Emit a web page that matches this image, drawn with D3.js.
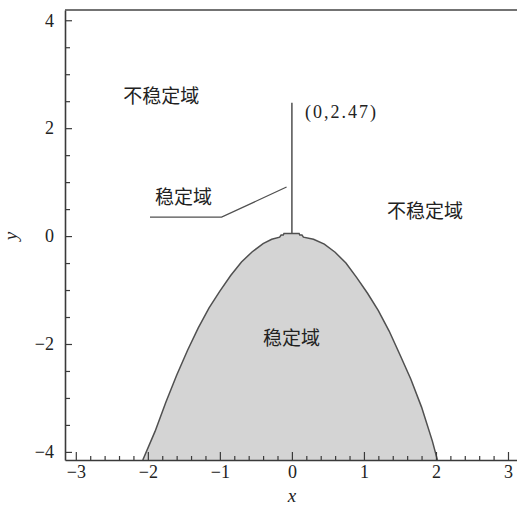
<!DOCTYPE html>
<html><head><meta charset="utf-8">
<script src="https://cdn.jsdelivr.net/npm/d3@7"></script>
<style>body{margin:0;background:#fff}</style>
</head><body>
<script>
// ---- data ----
const xTickValues = [-3, -2, -1, 0, 1, 2, 3];
const yTickValues = [-4, -2, 0, 2, 4];
const boundaryX = [-2.07, -1.9, -1.75, -1.6, -1.45, -1.3, -1.15, -1.0, -0.85, -0.7, -0.55, -0.4, -0.28,
  -0.17, -0.15, -0.12, -0.11, 0.1, 0.11, 0.14, 0.16,
  0.3, 0.45, 0.6, 0.75, 0.9, 1.05, 1.2, 1.35, 1.5, 1.65, 1.8, 1.95, 2.02];
const boundaryY = [-4.15, -3.62, -3.08, -2.58, -2.12, -1.7, -1.33, -1.02, -0.73, -0.48, -0.29, -0.14, -0.06,
  -0.02, 0.02, 0.02, 0.05, 0.05, 0.02, 0.02, -0.02,
  -0.06, -0.15, -0.3, -0.5, -0.77, -1.06, -1.38, -1.76, -2.2, -2.65, -3.17, -3.8, -4.15];
const peakPoint = [0, 2.47];
const peakLabel = "(0,2.47)";
const regionLabels = ["不稳定域", "稳定域", "不稳定域", "稳定域"];

// ---- layout ----
const W = 517, H = 508;
const L = 65, R = 517, T = 10, B = 460;
const x = d3.scaleLinear().domain([-3.15, 3.125]).range([L, R]);
const y = d3.scaleLinear().domain([-4.15, 4.19]).range([B, T]);
const ink = "#3a3a3a";
const serif = "Liberation Serif, Times New Roman, Times, serif";
const cjk = "Noto Sans CJK SC, Noto Sans CJK JP, sans-serif";

const svg = d3.select("body").append("svg").attr("width", W).attr("height", H);
svg.append("defs").append("clipPath").attr("id", "clip")
  .append("rect").attr("x", L).attr("y", T).attr("width", R - L).attr("height", B - T);

const pts = boundaryX.map((v, i) => [v, boundaryY[i]]);
const area = d3.area().x(d => x(d[0])).y0(y(-4.15)).y1(d => y(d[1]));
const line = d3.line().x(d => x(d[0])).y(d => y(d[1]));
const g = svg.append("g").attr("clip-path", "url(#clip)");
g.append("path").datum(pts).attr("d", area).attr("fill", "#d4d4d4");
g.append("path").datum(pts).attr("d", line).attr("fill", "none").attr("stroke", "#505050").attr("stroke-width", 1.5);

// vertical marker line
svg.append("line").attr("x1", x(peakPoint[0])).attr("x2", x(peakPoint[0]))
  .attr("y1", y(0.05)).attr("y2", y(peakPoint[1])).attr("stroke", "#505050").attr("stroke-width", 1.5);
// leader line for 稳定域
svg.append("path").datum([[-1.97, 0.35], [-0.976, 0.35], [-0.074, 0.91]]).attr("d", line)
  .attr("fill", "none").attr("stroke", "#505050").attr("stroke-width", 1.3);

// axes
const xMinor = d3.range(-15, 16).map(i => i / 5).filter(v => Math.abs(v - Math.round(v)) > 1e-6);
const yMinor = d3.range(-8, 9).map(i => i / 2).filter(v => !yTickValues.includes(v));
const fmt = d => d < 0 ? "\u2212" + Math.abs(d) : d;
svg.append("g").attr("transform", `translate(0,${B})`)
  .call(d3.axisBottom(x).tickValues(xTickValues).tickSizeInner(-8).tickSizeOuter(0)
    .tickFormat(fmt).tickPadding(5));
svg.append("g").attr("transform", `translate(0,${B})`)
  .call(d3.axisBottom(x).tickValues(xMinor).tickSize(-4).tickFormat(""))
  .call(s => s.select(".domain").remove());
svg.append("g").attr("transform", `translate(${L},0)`)
  .call(d3.axisLeft(y).tickValues(yTickValues).tickSizeInner(-7).tickSizeOuter(0)
    .tickFormat(fmt).tickPadding(11));
svg.append("g").attr("transform", `translate(${L},0)`)
  .call(d3.axisLeft(y).tickValues(yMinor).tickSize(-5).tickFormat(""))
  .call(s => s.select(".domain").remove());
svg.selectAll(".tick line").attr("stroke", ink).attr("stroke-width", 1.2);
svg.selectAll(".domain").attr("stroke", ink).attr("stroke-width", 1.6);
svg.selectAll(".tick text").attr("font-family", serif).attr("font-size", 18).attr("fill", "#222");
// top border
svg.append("line").attr("x1", L).attr("x2", R).attr("y1", T).attr("y2", T)
  .attr("stroke", "#444").attr("stroke-width", 1.6);

// axis titles
svg.append("text").attr("x", x(0)).attr("y", 502).attr("text-anchor", "middle")
  .attr("font-family", serif).attr("font-style", "italic").attr("font-size", 19).attr("fill", "#222").text("x");
svg.append("text").attr("transform", `translate(17,${y(0)}) rotate(-90)`).attr("text-anchor", "middle")
  .attr("font-family", serif).attr("font-style", "italic").attr("font-size", 19).attr("fill", "#222").text("y");

// annotations
svg.append("text").attr("x", x(peakPoint[0]) + 13).attr("y", y(peakPoint[1]) + 15)
  .attr("font-family", serif).attr("font-size", 18).attr("letter-spacing", 2).attr("fill", "#222").text(peakLabel);
const labelPos = [[-2.34, 2.46], [-1.9, 0.6], [1.32, 0.33], [-0.4, -2.02]];
regionLabels.forEach((t, i) => {
  svg.append("text").attr("x", x(labelPos[i][0])).attr("y", y(labelPos[i][1]))
    .attr("font-family", cjk).attr("font-size", 19).attr("fill", "#222").text(t);
});
</script>
</body></html>
